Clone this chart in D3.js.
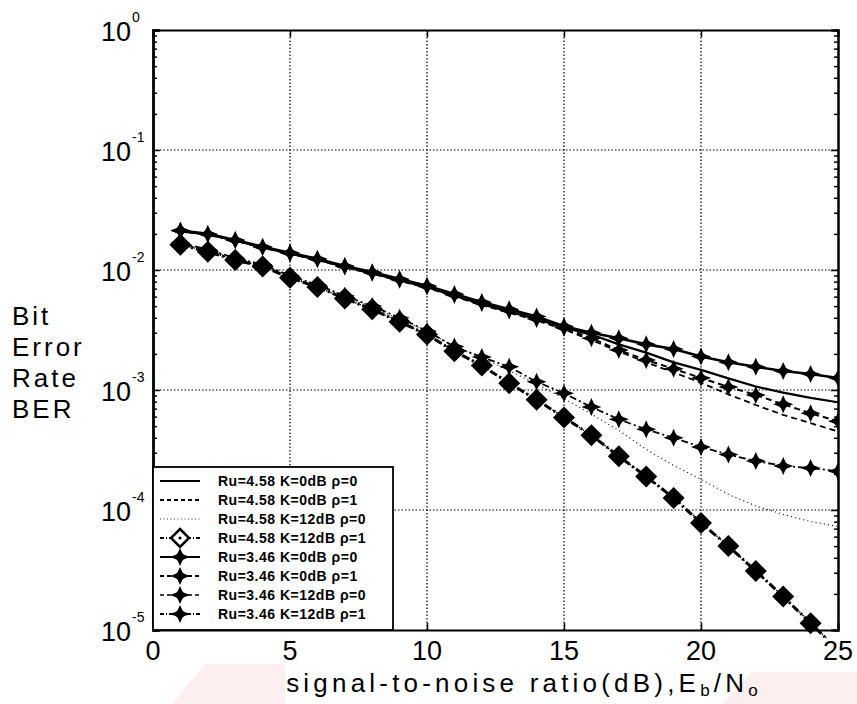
<!DOCTYPE html>
<html>
<head>
<meta charset="utf-8">
<script src="https://cdn.jsdelivr.net/npm/d3@7"></script>
<style>
  body { margin: 0; background: #fff; }
  svg text { font-family: "Liberation Sans", Arial, sans-serif; fill: #000; }
</style>
</head>
<body>
<svg id="chart" width="857" height="704"></svg>
<script>
// Eb/No values (dB)
var snrDb = [1, 2, 3, 4, 5, 6, 7, 8, 9, 10, 11, 12, 13, 14, 15, 16, 17, 18, 19, 20, 21, 22, 23, 24, 25];

// BER curves
var ber458K0r0 = [0.0210, 0.0198, 0.0176, 0.0154, 0.0137, 0.0122, 0.0106, 0.0094, 0.0082, 0.0072, 0.0061, 0.0052, 0.0045, 0.0039, 0.0033, 0.0029, 0.0024, 0.00205, 0.0017, 0.00147, 0.00125, 0.00107, 0.00095, 0.00086, 0.00079];
var ber458K0r1 = [0.0209, 0.0197, 0.0175, 0.0153, 0.0136, 0.0121, 0.0105, 0.0093, 0.0081, 0.0071, 0.0060, 0.0051, 0.0044, 0.0038, 0.0032, 0.0026, 0.0021, 0.0017, 0.0014, 0.00115, 0.00092, 0.00075, 0.00062, 0.00053, 0.00045];
var ber458K12r0 = [0.0166, 0.0146, 0.0125, 0.0110, 0.0089, 0.0075, 0.0061, 0.0049, 0.0039, 0.0031, 0.0023, 0.00185, 0.00145, 0.00112, 0.00085, 0.00063, 0.00046, 0.00032, 0.000235, 0.00018, 0.000135, 0.000108, 0.000092, 0.000080, 0.000073];
var ber458K12r1 = [0.0162, 0.0142, 0.0121, 0.0107, 0.0086, 0.0072, 0.0058, 0.0047, 0.0037, 0.0029, 0.0021, 0.0016, 0.00114, 0.00083, 0.00059, 0.00042, 0.00028, 0.00019, 0.000126, 0.000078, 0.000050, 0.000031, 0.000019, 0.0000114, 0.0000068];
var ber346K0r0 = [0.0213, 0.0200, 0.0178, 0.0156, 0.0139, 0.0124, 0.0108, 0.0096, 0.0084, 0.0074, 0.0063, 0.0054, 0.0047, 0.0041, 0.0034, 0.0030, 0.0027, 0.0024, 0.0022, 0.0019, 0.0017, 0.00156, 0.00144, 0.00136, 0.00126];
var ber346K0r1 = [0.0212, 0.0199, 0.0177, 0.0155, 0.0138, 0.0123, 0.0107, 0.0095, 0.0083, 0.0073, 0.0062, 0.0053, 0.0046, 0.0039, 0.0033, 0.0027, 0.00215, 0.00178, 0.0015, 0.00126, 0.00106, 0.00091, 0.00076, 0.00064, 0.00055];
var ber346K12r0 = [0.0163, 0.0143, 0.0122, 0.0107, 0.0087, 0.0072, 0.0058, 0.0047, 0.0037, 0.0029, 0.0021, 0.0016, 0.00115, 0.00083, 0.00059, 0.00042, 0.00028, 0.00019, 0.000127, 0.000079, 0.000050, 0.000031, 0.000019, 0.0000115, 0.0000069];
var ber346K12r1 = [0.0168, 0.0148, 0.0126, 0.0111, 0.0090, 0.0075, 0.0061, 0.0050, 0.0040, 0.0031, 0.0023, 0.00188, 0.00156, 0.00117, 0.00094, 0.00072, 0.00057, 0.00047, 0.00040, 0.000335, 0.00029, 0.000256, 0.000233, 0.000224, 0.00021];

var legendLabels = ["Ru=4.58 K=0dB \u03c1=0", "Ru=4.58 K=0dB \u03c1=1", "Ru=4.58 K=12dB \u03c1=0", "Ru=4.58 K=12dB \u03c1=1",
                    "Ru=3.46 K=0dB \u03c1=0", "Ru=3.46 K=0dB \u03c1=1", "Ru=3.46 K=12dB \u03c1=0", "Ru=3.46 K=12dB \u03c1=1"];
var xTicks = [0, 5, 10, 15, 20, 25];
var yDecades = [0, -1, -2, -3, -4, -5];

var allSeries = [ber458K0r0, ber458K0r1, ber458K12r0, ber458K12r1, ber346K0r0, ber346K0r1, ber346K12r0, ber346K12r1];
// line look for each series, in legend order
var looks = [
  {dash: null,            width: 2.2, color: "#000", marker: null},
  {dash: "6,4",           width: 1.8, color: "#000", marker: null},
  {dash: "1.2,3",         width: 1.2, color: "#333", marker: null},
  {dash: "8,3,2,3",       width: 3,   color: "#000", marker: "diamond"},
  {dash: null,            width: 2.6, color: "#000", marker: "star"},
  {dash: "6,4",           width: 2,   color: "#000", marker: "star"},
  {dash: "1.5,3",         width: 1.4, color: "#000", marker: "star"},
  {dash: "7,3,2,3",       width: 1.8, color: "#000", marker: "star"}
];

var svg = d3.select("#chart");
// plot box (window.top is read-only, so other names)
var pLeft = 153, pRight = 838, pTop = 30, pBottom = 630;

var x = d3.scaleLinear().domain([0, 25]).range([pLeft, pRight]);
var y = d3.scaleLog().domain([1e-5, 1]).range([pBottom, pTop]);

// faint pink marks of the scan, below the axis
svg.append("path").attr("d", "M172,704 L205,664 L285,664 L285,704 Z").attr("fill", "#fdeef0");
svg.append("path").attr("d", "M722,704 L752,672 L857,672 L857,704 Z").attr("fill", "#fdeef0");

// grid
var grid = svg.append("g");
grid.selectAll(".gx").data(xTicks.slice(1, -1)).enter().append("line")
    .attr("x1", function(d) { return x(d); }).attr("x2", function(d) { return x(d); })
    .attr("y1", pTop).attr("y2", pBottom)
    .attr("stroke", "#000").attr("stroke-width", 1.2).attr("stroke-dasharray", "1.5,2");
grid.selectAll(".gy").data(yDecades.slice(1, -1)).enter().append("line")
    .attr("x1", pLeft).attr("x2", pRight)
    .attr("y1", function(d) { return y(Math.pow(10, d)); }).attr("y2", function(d) { return y(Math.pow(10, d)); })
    .attr("stroke", "#000").attr("stroke-width", 1.2).attr("stroke-dasharray", "1.5,2");

// axes, ticks inside like matlab
var minorVals = [];
yDecades.slice(1).forEach(function(e) {
  for (var m = 2; m <= 9; m++) minorVals.push(m * Math.pow(10, e));
});
var majorVals = yDecades.map(function(e) { return Math.pow(10, e); });

svg.append("g").attr("class", "ax-left").attr("transform", "translate(" + pLeft + ",0)")
    .call(d3.axisLeft(y).tickValues(majorVals).tickSize(-7).tickFormat(""));
svg.append("g").attr("transform", "translate(" + pLeft + ",0)")
    .call(d3.axisLeft(y).tickValues(minorVals).tickSize(-4).tickFormat(""));
svg.append("g").attr("transform", "translate(" + pRight + ",0)")
    .call(d3.axisRight(y).tickValues(majorVals).tickSize(-7).tickFormat(""));
svg.append("g").attr("transform", "translate(" + pRight + ",0)")
    .call(d3.axisRight(y).tickValues(minorVals).tickSize(-4).tickFormat(""));
svg.append("g").attr("transform", "translate(0," + pBottom + ")")
    .call(d3.axisBottom(x).tickValues(xTicks).tickSize(-7).tickFormat(""));
svg.append("g").attr("transform", "translate(0," + pTop + ")")
    .call(d3.axisTop(x).tickValues(xTicks).tickSize(-7).tickFormat(""));
svg.selectAll(".domain").attr("stroke", "#000").attr("stroke-width", 2);
svg.select(".ax-left .domain").attr("stroke-width", 2.6);
svg.selectAll(".tick line").attr("stroke", "#000").attr("stroke-width", 1.5);

// y tick labels 10^n
var ylab = svg.append("g").selectAll("g").data(yDecades).enter().append("g");
ylab.append("text")
    .attr("x", 131).attr("y", function(d) { return y(Math.pow(10, d)) + 11; })
    .attr("text-anchor", "end").attr("font-size", 27)
    .text("10");
ylab.append("text")
    .attr("x", 132).attr("y", function(d) { return y(Math.pow(10, d)) - 8; })
    .attr("font-size", 14)
    .text(function(d) { return d === 0 ? "0" : String(d); });

// x tick labels
svg.append("g").selectAll("text").data(xTicks).enter().append("text")
    .attr("x", function(d) { return x(d); }).attr("y", 660)
    .attr("text-anchor", "middle").attr("font-size", 27)
    .text(function(d) { return d; });

// axis titles
var xt = svg.append("text").attr("x", 524).attr("y", 692).attr("text-anchor", "middle")
    .attr("font-size", 26).attr("letter-spacing", 4.2);
xt.append("tspan").text("signal-to-noise ratio(dB),E");
xt.append("tspan").attr("font-size", 17).attr("dy", 4).text("b");
xt.append("tspan").attr("dy", -4).text("/N");
xt.append("tspan").attr("font-size", 17).attr("dy", 4).text("o");

var yTitle = ["Bit", "Error", "Rate", "BER"];
svg.append("g").selectAll("text").data(yTitle).enter().append("text")
    .attr("x", 12).attr("y", function(d, i) { return 325 + i * 31; })
    .attr("font-size", 26).attr("letter-spacing", 3)
    .text(function(d) { return d; });

// curves
svg.append("clipPath").attr("id", "plotclip").append("rect")
    .attr("x", pLeft).attr("y", pTop).attr("width", pRight - pLeft).attr("height", pBottom - pTop + 8);

var line = d3.line()
    .x(function(d) { return x(d[0]); })
    .y(function(d) { return y(d[1]); });

var starPath = "M0,-9 L2.5,-3.5 L3.5,-2.5 L10,0 L3.5,2.5 L2.5,3.5 L0,9 L-2.5,3.5 L-3.5,2.5 L-10,0 L-3.5,-2.5 L-2.5,-3.5 Z";
var diamondPath = "M0,-11 L11,0 L0,11 L-11,0 Z";

var plot = svg.append("g").attr("clip-path", "url(#plotclip)");
allSeries.forEach(function(vals, i) {
  var pts = snrDb.map(function(s, j) { return [s, vals[j]]; });
  var lk = looks[i];
  plot.append("path")
      .attr("d", line(pts))
      .attr("fill", "none")
      .attr("stroke", lk.color)
      .attr("stroke-width", lk.width)
      .attr("stroke-dasharray", lk.dash);
  if (lk.marker) {
    var g = plot.append("g");
    g.selectAll("path").data(pts).enter().append("path")
        .attr("transform", function(d) { return "translate(" + x(d[0]) + "," + y(d[1]) + ")"; })
        .attr("d", lk.marker === "star" ? starPath : diamondPath)
        .attr("fill", "#000");
    if (lk.marker === "star") {
      g.selectAll("circle").data(pts).enter().append("circle")
          .attr("cx", function(d) { return x(d[0]); })
          .attr("cy", function(d) { return y(d[1]); })
          .attr("r", 4.2).attr("fill", "#000");
    }
  }
});

// legend
var legend = svg.append("g");
legend.append("rect")
    .attr("x", 153).attr("y", 467).attr("width", 240).attr("height", 163)
    .attr("fill", "#fff").attr("stroke", "#000").attr("stroke-width", 1.8);
var rows = legend.selectAll(".row").data(legendLabels).enter().append("g")
    .attr("transform", function(d, i) { return "translate(0," + (481 + i * 19) + ")"; });
rows.append("line")
    .attr("x1", 160).attr("x2", 200).attr("y1", 0).attr("y2", 0)
    .attr("stroke", function(d, i) { return looks[i].color; })
    .attr("stroke-width", function(d, i) { return Math.min(looks[i].width, 2); })
    .attr("stroke-dasharray", function(d, i) {
      if (!looks[i].dash) return null;
      return i === 2 ? "1,2.5" : (i === 3 || i === 7 ? "4,2,1,2" : "4,3");
    });
rows.each(function(d, i) {
  var r = d3.select(this);
  if (looks[i].marker === "star") {
    r.append("path").attr("transform", "translate(180,0)").attr("d", starPath).attr("fill", "#000");
    r.append("circle").attr("cx", 180).attr("cy", 0).attr("r", 4).attr("fill", "#000");
  } else if (looks[i].marker === "diamond") {
    r.append("path").attr("transform", "translate(180,0)").attr("d", "M0,-9 L9,0 L0,9 L-9,0 Z")
        .attr("fill", "#fff").attr("stroke", "#000").attr("stroke-width", 2.5);
    r.append("circle").attr("cx", 180).attr("cy", 0).attr("r", 1.6).attr("fill", "#000");
  }
});
rows.append("text")
    .attr("x", 218).attr("y", 5)
    .attr("font-size", 14).attr("font-weight", "bold").attr("letter-spacing", 0.5)
    .text(function(d) { return d; });
</script>
</body>
</html>
